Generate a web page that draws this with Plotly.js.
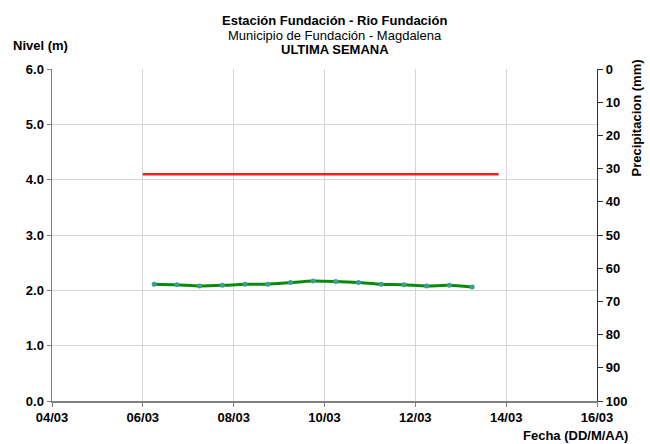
<!DOCTYPE html>
<html><head><meta charset="utf-8">
<script src="https://cdn.plot.ly/plotly-3.0.1.min.js"></script>
<style>html,body{margin:0;padding:0;background:#fff}#c{width:650px;height:444px}</style>
</head><body><div id="c"></div>
<script>
// Nivel (m) observado
var nivelFechas = ["2024-03-06 06:00","2024-03-06 18:00","2024-03-07 06:00","2024-03-07 18:00","2024-03-08 06:00","2024-03-08 18:00","2024-03-09 06:00","2024-03-09 18:00","2024-03-10 06:00","2024-03-10 18:00","2024-03-11 06:00","2024-03-11 18:00","2024-03-12 06:00","2024-03-12 18:00","2024-03-13 06:00"];
var nivelValores = [2.11,2.10,2.08,2.09,2.11,2.11,2.14,2.17,2.16,2.14,2.11,2.10,2.08,2.09,2.06];
// Umbral de alerta
var umbralFechas = ["2024-03-06 00:00","2024-03-13 20:00"];
var umbralValores = [4.1,4.1];
// Precipitacion (mm) - sin datos
var precFechas = [];
var precValores = [];
var xTickVals = ["2024-03-04","2024-03-06","2024-03-08","2024-03-10","2024-03-12","2024-03-14","2024-03-16"];
var xTickText = ["04/03","06/03","08/03","10/03","12/03","14/03","16/03"];

var F = "Liberation Sans, Arial, sans-serif";
var traces = [
  {x: umbralFechas, y: umbralValores, type:"scatter", mode:"lines", line:{color:"#f41c1c", width:2.5}, hoverinfo:"skip"},
  {x: nivelFechas, y: nivelValores, type:"scatter", mode:"lines+markers", line:{color:"#0a8a0a", width:3, shape:"spline", smoothing:0.6}, marker:{color:"#3a9e96", size:5}},
  {x: precFechas, y: precValores, type:"bar", yaxis:"y2", marker:{color:"#4f81bd"}}
];
var layout = {
  width:650, height:444, showlegend:false,
  paper_bgcolor:"#fff", plot_bgcolor:"#fff",
  margin:{l:52, r:53, t:69, b:43},
  font:{family:F, color:"#000"},
  xaxis:{type:"date", range:["2024-03-04","2024-03-16"], tickvals:xTickVals, ticktext:xTickText,
    showgrid:true, gridcolor:"#d6d6d6", gridwidth:1, showline:true, linecolor:"#808080", linewidth:1.5,
    ticks:"outside", ticklen:4, tickcolor:"#808080", tickfont:{family:F, size:13, color:"#000", weight:"bold"}, zeroline:false},
  yaxis:{range:[0,6], dtick:1, tickformat:".1f", showgrid:true, gridcolor:"#d6d6d6", gridwidth:1,
    showline:true, linecolor:"#808080", linewidth:1.5, ticks:"outside", ticklen:4, tickcolor:"#808080",
    tickfont:{family:F, size:13, color:"#000", weight:"bold"}, zeroline:false},
  yaxis2:{overlaying:"y", side:"right", range:[100,0], dtick:10, showgrid:false, showline:true,
    linecolor:"#303030", linewidth:1.2, ticks:"outside", ticklen:5, tickcolor:"#303030",
    tickfont:{family:F, size:13, color:"#000", weight:"bold"}, zeroline:false},
  annotations:[
    {text:"<b>Estación Fundación - Rio Fundación</b>", xref:"paper", yref:"paper", x:0.519, y:1.0, yshift:58, showarrow:false, font:{family:F, size:13, color:"#000"}},
    {text:"Municipio de Fundación - Magdalena", xref:"paper", yref:"paper", x:0.519, y:1.0, yshift:43, showarrow:false, font:{family:F, size:13, color:"#000"}},
    {text:"<b>ULTIMA SEMANA</b>", xref:"paper", yref:"paper", x:0.519, y:1.0, yshift:29, showarrow:false, font:{family:F, size:13, color:"#000"}},
    {text:"<b>Nivel (m)</b>", xref:"paper", yref:"paper", x:0, xanchor:"left", xshift:-41, y:1.0, yshift:33, showarrow:false, font:{family:F, size:13, color:"#000"}},
    {text:"<b>Precipitacion (mm)</b>", xref:"paper", yref:"paper", x:1, xshift:48, y:1.0, yanchor:"middle", yshift:-49, textangle:-90, showarrow:false, font:{family:F, size:13, color:"#000"}},
    {text:"<b>Fecha (DD/M/AA)</b>", xref:"paper", yref:"paper", x:1, xanchor:"right", xshift:33, y:0, yshift:-44, showarrow:false, font:{family:F, size:13, color:"#000"}}
  ]
};
Plotly.newPlot("c", traces, layout, {staticPlot:true});
</script></body></html>
